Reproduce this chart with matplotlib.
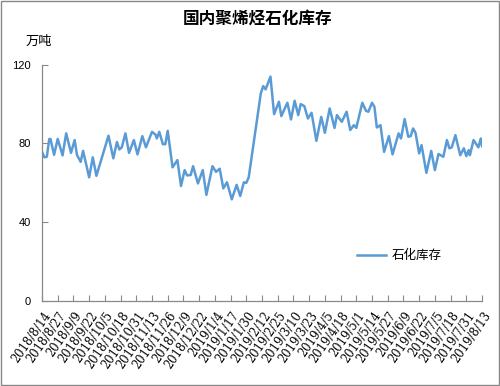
import matplotlib
matplotlib.use("Agg")
import matplotlib.pyplot as plt
from matplotlib.patches import Rectangle
from matplotlib.lines import Line2D
import matplotlib.transforms as mtransforms
import pandas as pd

plt.rcParams['font.family'] = ['Noto Sans CJK SC', 'DejaVu Sans']

title = "国内聚烯烃石化库存"
unit_label = "万吨"
series_name = "石化库存"

dates = [
    "2018-08-14", "2018-08-16", "2018-08-18", "2018-08-20", "2018-08-21", "2018-08-24",
    "2018-08-27", "2018-08-31", "2018-09-03", "2018-09-07", "2018-09-10", "2018-09-12",
    "2018-09-15", "2018-09-17", "2018-09-22", "2018-09-25", "2018-09-28", "2018-10-08",
    "2018-10-12", "2018-10-15", "2018-10-17", "2018-10-19", "2018-10-22", "2018-10-25",
    "2018-10-29", "2018-11-01", "2018-11-05", "2018-11-08", "2018-11-13", "2018-11-16",
    "2018-11-17", "2018-11-19", "2018-11-22", "2018-11-24", "2018-11-26", "2018-11-30",
    "2018-12-04", "2018-12-07", "2018-12-10", "2018-12-12", "2018-12-15", "2018-12-17",
    "2018-12-21", "2018-12-25", "2018-12-28", "2019-01-02", "2019-01-05", "2019-01-08",
    "2019-01-11", "2019-01-14", "2019-01-18", "2019-01-22", "2019-01-25", "2019-01-28",
    "2019-01-30", "2019-02-01", "2019-02-11", "2019-02-13", "2019-02-15", "2019-02-19",
    "2019-02-22", "2019-02-26", "2019-02-28", "2019-03-05", "2019-03-08", "2019-03-11",
    "2019-03-14", "2019-03-16", "2019-03-19", "2019-03-22", "2019-03-25", "2019-03-29",
    "2019-04-02", "2019-04-05", "2019-04-09", "2019-04-13", "2019-04-15", "2019-04-19",
    "2019-04-23", "2019-04-26", "2019-04-29", "2019-05-01", "2019-05-06", "2019-05-09",
    "2019-05-11", "2019-05-14", "2019-05-16", "2019-05-18", "2019-05-21", "2019-05-24",
    "2019-05-28", "2019-05-31", "2019-06-05", "2019-06-07", "2019-06-10", "2019-06-13",
    "2019-06-15", "2019-06-17", "2019-06-19", "2019-06-22", "2019-06-24", "2019-06-28",
    "2019-07-02", "2019-07-05", "2019-07-08", "2019-07-12", "2019-07-15", "2019-07-17",
    "2019-07-19", "2019-07-22", "2019-07-26", "2019-07-29", "2019-07-31", "2019-08-02",
    "2019-08-03", "2019-08-06", "2019-08-10", "2019-08-12", "2019-08-13",
]

inventory = [
    75.7, 72.9, 73.2, 82.2, 82.3, 74.2,
    82.3, 73.9, 85.1, 75.2, 81.7, 74.0,
    70.6, 76.2, 62.7, 72.9, 63.5, 83.9,
    72.4, 80.7, 76.9, 78.0, 85.1, 75.2,
    81.7, 74.4, 83.7, 78.0, 85.9, 84.4,
    82.5, 85.9, 79.6, 79.6, 86.4, 67.8,
    71.5, 58.3, 66.4, 63.7, 63.9, 68.4,
    59.6, 66.4, 53.8, 68.4, 65.5, 67.1,
    57.1, 60.2, 51.5, 58.9, 53.2, 60.2,
    59.9, 62.7, 105.4, 109.2, 107.5, 114.0,
    94.9, 101.2, 93.9, 100.7, 92.2, 101.7,
    94.4, 100.0, 99.0, 92.7, 95.6, 81.3,
    93.5, 85.4, 97.8, 87.9, 94.4, 91.0,
    96.1, 86.8, 89.3, 87.9, 100.7, 96.6,
    96.1, 100.7, 98.6, 88.1, 89.3, 75.7,
    83.7, 74.4, 85.1, 82.5, 92.4, 83.4,
    83.7, 87.6, 85.4, 74.9, 79.1, 65.0,
    76.2, 66.4, 74.6, 73.2, 81.7, 77.5,
    78.0, 84.2, 74.0, 77.5, 73.5, 76.6,
    74.0, 81.7, 78.0, 82.5, 78.6,
]

tick_dates = [
    "2018-08-14", "2018-08-27", "2018-09-09", "2018-09-22", "2018-10-05", "2018-10-18",
    "2018-10-31", "2018-11-13", "2018-11-26", "2018-12-09", "2018-12-22", "2019-01-04",
    "2019-01-17", "2019-01-30", "2019-02-12", "2019-02-25", "2019-03-10", "2019-03-23",
    "2019-04-05", "2019-04-18", "2019-05-01", "2019-05-14", "2019-05-27", "2019-06-09",
    "2019-06-22", "2019-07-05", "2019-07-18", "2019-07-31", "2019-08-13",
]
tick_labels = [
    "2018/8/14", "2018/8/27", "2018/9/9", "2018/9/22", "2018/10/5", "2018/10/18",
    "2018/10/31", "2018/11/13", "2018/11/26", "2018/12/9", "2018/12/22", "2019/1/4",
    "2019/1/17", "2019/1/30", "2019/2/12", "2019/2/25", "2019/3/10", "2019/3/23",
    "2019/4/5", "2019/4/18", "2019/5/1", "2019/5/14", "2019/5/27", "2019/6/9",
    "2019/6/22", "2019/7/5", "2019/7/18", "2019/7/31", "2019/8/13",
]
y_ticks = [0, 40, 80, 120]

x = pd.to_datetime(dates)
xt = pd.to_datetime(tick_dates)

fig = plt.figure(figsize=(5.0, 3.86), dpi=100)
ax = fig.add_axes([0.084, 0.2215, 0.88, 0.6105])

line_color = "#5B9BD5"
ax.plot(x, inventory, color=line_color, lw=1.8, solid_joinstyle='round')

ax.set_xlim(xt[0], xt[-1])
ax.set_ylim(0, 120)
ax.set_yticks(y_ticks)
ax.set_yticklabels([str(v) for v in y_ticks], family=['Liberation Sans', 'DejaVu Sans'], fontsize=8)
ax.set_xticks(xt)
ax.set_xticklabels(tick_labels, rotation=55, ha='right', va='center', rotation_mode='anchor',
                   family=['DejaVu Serif'], fontsize=8.3)

for s in ['top', 'right']:
    ax.spines[s].set_visible(False)
for s in ['left', 'bottom']:
    ax.spines[s].set_color('#898989')
    ax.spines[s].set_linewidth(0.9)
ax.tick_params(axis='both', direction='in', length=4, width=0.8, color='#898989')
ax.tick_params(axis='y', pad=8)
ax.tick_params(axis='x', pad=9)

offset = mtransforms.ScaledTranslation(6 / 100, 0, fig.dpi_scale_trans)
for lbl in ax.get_xticklabels():
    lbl.set_transform(lbl.get_transform() + offset)

fig.text(0.516, 0.952, title, ha='center', va='center', fontsize=12, fontweight='bold')
fig.text(0.077, 0.893, unit_label, ha='center', va='center', fontsize=9.5)

handle = Line2D([0], [0], color=line_color, lw=1.8)
ax.legend([handle], [series_name], loc='center left', bbox_to_anchor=(0.69, 0.19),
          frameon=False, fontsize=9, handlelength=2.3, handletextpad=0.5)

fig.patches.append(Rectangle((0.002, 0.002), 0.996, 0.996, transform=fig.transFigure,
                             fill=False, edgecolor='#888888', lw=1.0))

fig.savefig("out.png", dpi=100)
